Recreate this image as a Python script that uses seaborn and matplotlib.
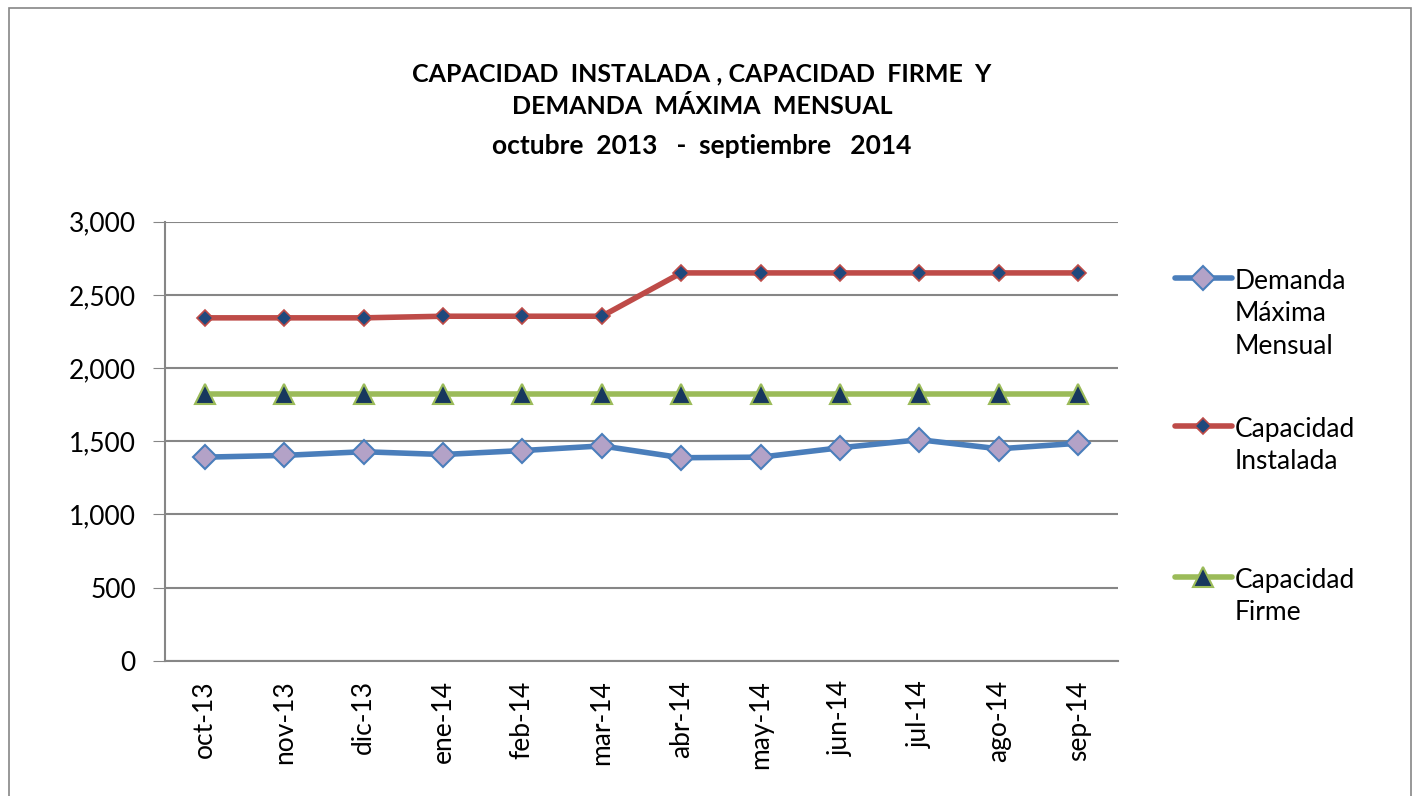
import pandas as pd
import seaborn as sns
import matplotlib
import matplotlib.pyplot as plt
from matplotlib.patches import Rectangle

matplotlib.use('Agg')

# Datos
meses = ["oct-13", "nov-13", "dic-13", "ene-14", "feb-14", "mar-14",
         "abr-14", "may-14", "jun-14", "jul-14", "ago-14", "sep-14"]
demanda = [1391, 1403, 1428, 1409, 1436, 1468, 1387, 1391, 1455, 1510, 1448, 1486]
instalada = [2343, 2343, 2343, 2354, 2354, 2354, 2650, 2650, 2650, 2650, 2650, 2650]
firme = [1820, 1820, 1820, 1820, 1820, 1820, 1820, 1820, 1820, 1820, 1820, 1820]

sns.set_style("white")
plt.rcParams['font.family'] = ['Lato', 'DejaVu Sans']
plt.rcParams['text.color'] = 'black'
plt.rcParams['xtick.labelcolor'] = 'black'
plt.rcParams['ytick.labelcolor'] = 'black'

df = pd.DataFrame({"mes": meses, "pos": range(len(meses)),
                   "demanda": demanda, "instalada": instalada, "firme": firme})

W, H = 1417, 796
fig = plt.figure(figsize=(W / 100, H / 100), dpi=100)
ax = fig.add_axes([165 / W, 1 - 660.7 / H, (1118 - 165) / W, (660.7 - 221.7) / H])

sns.lineplot(data=df, x="pos", y="demanda", ax=ax, color="#4a7ebb", linewidth=4,
             marker="D", markersize=12, markerfacecolor="#b3a2c7",
             markeredgecolor="#4a7ebb", markeredgewidth=1.5,
             label="Demanda\nMáxima\nMensual")
sns.lineplot(data=df, x="pos", y="instalada", ax=ax, color="#be4b48", linewidth=4,
             marker="D", markersize=8, markerfacecolor="#1f497d",
             markeredgecolor="#be4b48", markeredgewidth=1.2,
             label="Capacidad\nInstalada")
sns.lineplot(data=df, x="pos", y="firme", ax=ax, color="#9bbb59", linewidth=4,
             marker="^", markersize=14, markerfacecolor="#17375e",
             markeredgecolor="#9bbb59", markeredgewidth=1.5,
             label="Capacidad\nFirme")

ax.set_xlim(-0.5, len(meses) - 0.5)
ax.set_ylim(0, 3000)
ax.set_yticks(range(0, 3001, 500))
ax.set_yticklabels([f"{v:,}" for v in range(0, 3001, 500)], fontsize=19)
ax.set_xticks(range(len(meses)))
ax.set_xticklabels(meses, rotation=90, fontsize=19)
ax.set_xticks([i - 0.5 for i in range(len(meses) + 1)], minor=True)
ax.tick_params(axis="x", which="major", length=0, pad=14)
ax.tick_params(axis="x", which="minor", length=9, color="#868686", direction="out")
ax.tick_params(axis="y", length=9, color="#868686", direction="out", left=True, pad=12)
ax.set_xlabel("")
ax.set_ylabel("")
ax.yaxis.grid(True, color="#868686", linewidth=1.5)
ax.set_axisbelow(True)
for s in ["top", "right"]:
    ax.spines[s].set_visible(False)
for s in ["left", "bottom"]:
    ax.spines[s].set_color("#868686")
    ax.spines[s].set_linewidth(1.5)

# Leyenda: una entrada por bloque, separadas como en el original
handles, labels = ax.get_legend_handles_labels()
ax.get_legend().remove()
entry_y = [281, 429, 580]
for h, l, y in zip(handles, labels, entry_y):
    leg = fig.legend([h], [l], loc="upper left",
                     bbox_to_anchor=(1175 / W, 1 - (y - 12) / H),
                     bbox_transform=fig.transFigure, frameon=False, fontsize=19,
                     handlelength=2.15, handletextpad=0.12, borderpad=0,
                     borderaxespad=0)
    for col in leg._legend_handle_box.get_children():
        for item in col.get_children():
            item.align = "top"
    for t in leg.get_texts():
        t.set_linespacing(1.37)
        t.set_color("black")

cx = 702 / W
fig.text(cx, 1 - 81 / H, "CAPACIDAD  INSTALADA , CAPACIDAD  FIRME  Y",
         ha="center", va="baseline", fontsize=18, fontweight="bold")
fig.text(cx, 1 - 114 / H, "DEMANDA  MÁXIMA  MENSUAL",
         ha="center", va="baseline", fontsize=18, fontweight="bold")
fig.text(cx, 1 - 154 / H, "octubre  2013   -  septiembre   2014",
         ha="center", va="baseline", fontsize=19, fontweight="bold")

fig.patches.append(Rectangle((0.006, -0.01), 0.99, 1.0, transform=fig.transFigure,
                             fill=False, edgecolor="#868686", linewidth=1.2))

plt.savefig("out.png", dpi=100)
plt.close()
